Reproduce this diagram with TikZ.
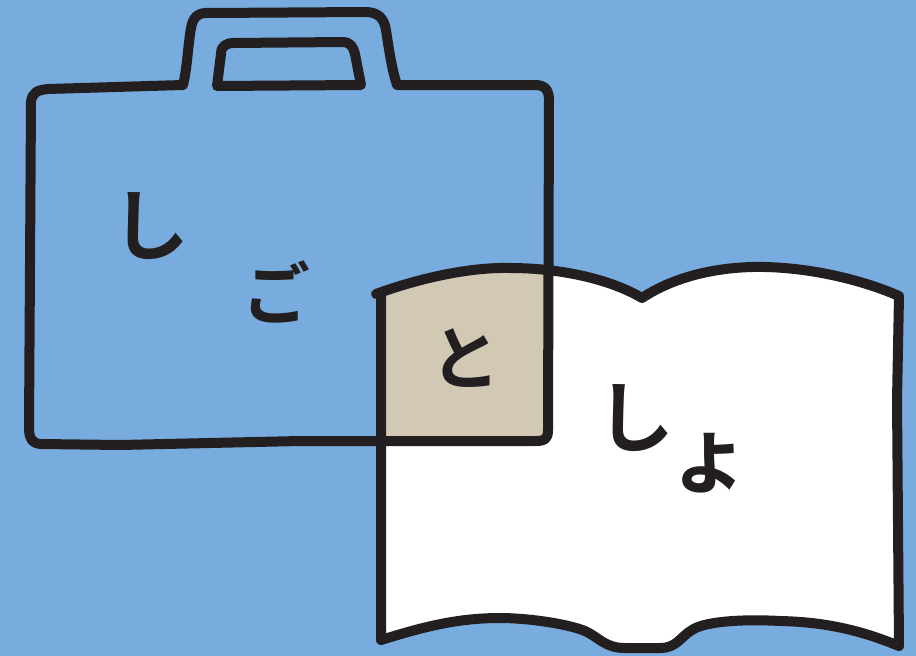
\documentclass[tikz,border=0pt]{standalone}
\usepackage{fontspec}
\newfontfamily\jpfont{Noto Sans CJK JP}[BoldFont={Noto Sans CJK JP Bold}]
\usepackage{xcolor}
\usetikzlibrary{positioning}
\definecolor{skyblue}{HTML}{78ACDF}
\definecolor{inkblack}{HTML}{231F20}
\definecolor{overlapbeige}{HTML}{D2C9B5}
\tikzset{
  inkline/.style={draw=inkblack, line width=10pt, line join=round, line cap=round},
  kanabig/.style={font=\jpfont\bfseries\fontsize{#1}{#1}\selectfont, text=inkblack, inner sep=0pt},
}
\def\bookoutline{(376,294) .. controls (420,278) and (470,267) .. (510,268)
  .. controls (560,268) and (610,279) .. (642,298)
  .. controls (675,276) and (720,266) .. (765,267)
  .. controls (810,268) and (860,279) .. (899,296)
  -- (897,400) -- (899,646)
  .. controls (860,630) and (825,622) .. (780,621)
  .. controls (745,619) and (705,621) .. (692,630)
  .. controls (680,637) and (677,648) .. (660,648)
  -- (625,648)
  .. controls (605,648) and (600,638) .. (585,631)
  .. controls (565,623) and (525,618) .. (500,618)
  .. controls (455,618) and (420,628) .. (381,640)
  -- (381,440) -- (381,294)}
\begin{document}
\begin{tikzpicture}[x=1pt, y=-1pt]
\useasboundingbox (0,0) rectangle (916,656);
\fill[skyblue] (0,0) rectangle (916,656);

% book
\fill[white] \bookoutline -- cycle;
\begin{scope}
  \clip (381,260) rectangle (548,440);
  \fill[overlapbeige] \bookoutline -- cycle;
\end{scope}
\draw[inkline] \bookoutline;

% case
\draw[inkline] (31,102) .. controls (32,92) and (38,90) .. (48,89)
  -- (183,85) .. controls (187,70) and (188,45) .. (191,28)
  .. controls (193,17) and (198,12) .. (210,13)
  -- (365,12) .. controls (378,12) and (384,18) .. (386,30)
  .. controls (389,50) and (392,70) .. (397,85)
  -- (535,85) .. controls (545,85) and (549,90) .. (549,100)
  -- (548,430) .. controls (548,440) and (544,441) .. (535,441)
  -- (300,441) -- (120,445) -- (42,444)
  .. controls (32,444) and (29,438) .. (29,428)
  -- cycle;
\draw[inkline] (221,54) .. controls (221,46) and (226,43) .. (234,43)
  -- (342,42) .. controls (351,42) and (353,47) .. (355,54)
  -- (361,85) -- (217,86) -- cycle;

% kana
\node[kanabig=78pt] (shi1) at (150,226) {し};
\node[kanabig=68pt] (go) at (276,292) {ご};
\node[kanabig=70pt] (to) at (465,358) {と};
\node[kanabig=78pt] (shi2) at (635,418) {し};
\node[kanabig=84pt] (yo) at (709,463) {ょ};
\end{tikzpicture}
\end{document}
